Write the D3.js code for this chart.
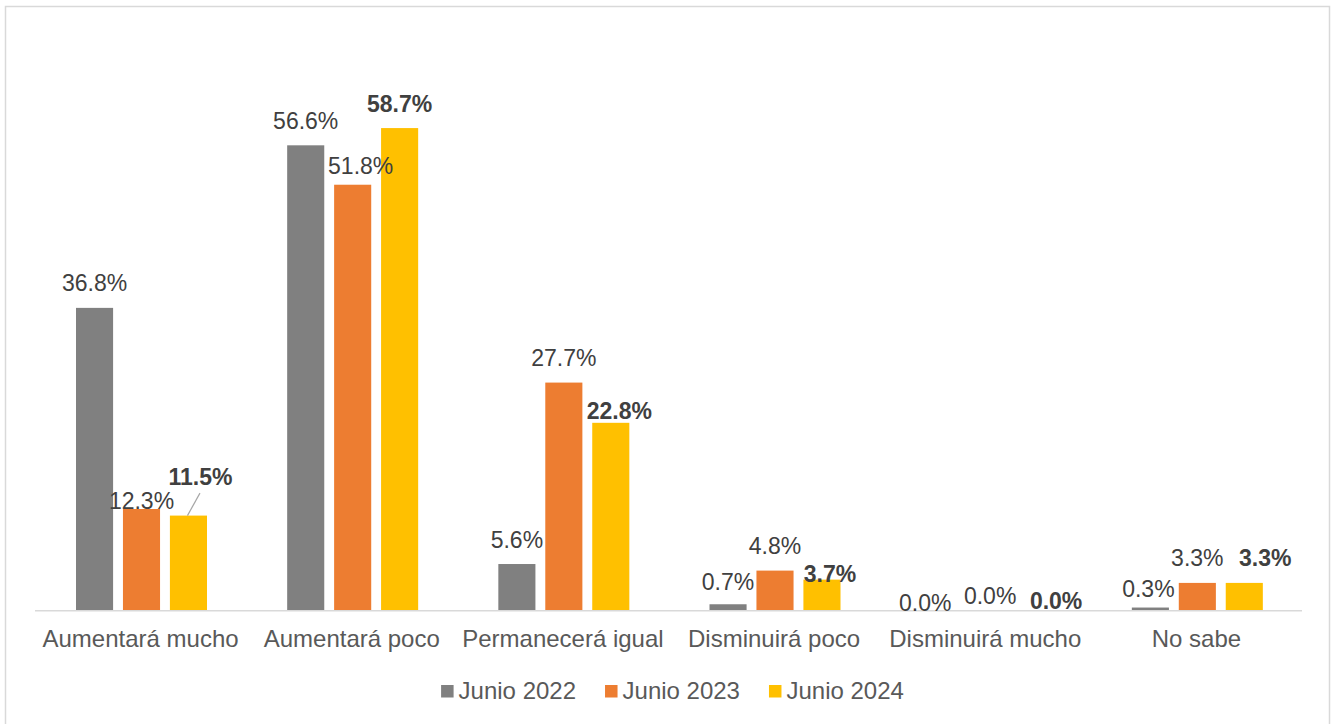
<!DOCTYPE html>
<html>
<head>
<meta charset="utf-8">
<script src="https://cdn.jsdelivr.net/npm/d3@7"></script>
<style>
  body { margin: 0; background: #fff; }
  svg { display: block; font-family: "Liberation Sans", Arial, sans-serif; }
</style>
</head>
<body>
<div id="chart"></div>
<script>
(function(){

    // data
    const categories = ["Aumentará mucho", "Aumentará poco", "Permanecerá igual", "Disminuirá poco", "Disminuirá mucho", "No sabe"];
    const seriesNames = ["Junio 2022", "Junio 2023", "Junio 2024"];
    const junio2022 = [36.8, 56.6, 5.6, 0.7, 0.0, 0.3];
    const junio2023 = [12.3, 51.8, 27.7, 4.8, 0.0, 3.3];
    const junio2024 = [11.5, 58.7, 22.8, 3.7, 0.0, 3.3];

    const colors = ["#808080", "#ED7D31", "#FFC000"];

    // manual label nudges (dx, dy in px) as placed in the original chart
    const labelShift = [
        [[0,0],[0,0],[0,0],[0,2],[-14,17.5],[-2,5.5]],
        [[0,16],[8,6],[0,0],[0,0],[4,10],[0,0]],
        [[12,-14],[0,0],[8.5,13],[8,18.5],[23,15.5],[21,0]]
    ];

    const width = 1331, height = 724;
    const left = 35, right = 1302, base = 610;

    let svg = d3.select("#chart")
        .append("svg")
        .attr("width", width)
        .attr("height", height);

    // outer frame
    svg.append("rect")
        .attr("x", 5.5).attr("y", 6.5)
        .attr("width", 1324).attr("height", 740)
        .attr("fill", "none")
        .attr("stroke", "#d9d9d9")
        .attr("stroke-width", 1.5);

    let data = [junio2022, junio2023, junio2024];

    let x0 = d3.scaleBand()
        .domain(categories)
        .range([left, right]);

    let x1 = d3.scaleBand()
        .domain(seriesNames)
        .range([41, 172])
        .paddingInner(0.21);

    let y = d3.scaleLinear()
        .domain([0, 70])
        .range([base, 35.3]);

    // bars
    seriesNames.forEach(function(s, si){
        svg.append("g").selectAll("rect")
            .data(data[si])
            .enter()
            .append("rect")
            .attr("x", function(d, i){ return x0(categories[i]) + x1(s); })
            .attr("y", function(d){ return y(d); })
            .attr("width", x1.bandwidth())
            .attr("height", function(d){ return base - y(d); })
            .attr("fill", colors[si]);
    });

    // axis line
    svg.append("line")
        .attr("x1", left).attr("x2", right)
        .attr("y1", base + 0.75).attr("y2", base + 0.75)
        .attr("stroke", "#d9d9d9")
        .attr("stroke-width", 1.5);

    // data labels
    seriesNames.forEach(function(s, si){
        svg.append("g").selectAll("text")
            .data(data[si])
            .enter()
            .append("text")
            .attr("x", function(d, i){ return x0(categories[i]) + x1(s) + x1.bandwidth()/2 + labelShift[si][i][0]; })
            .attr("y", function(d, i){ return y(d) - 16.5 + labelShift[si][i][1]; })
            .attr("text-anchor", "middle")
            .attr("font-size", "23px")
            .attr("font-weight", si === 2 ? "bold" : "normal")
            .attr("fill", "#404040")
            .text(function(d){ return d.toFixed(1) + "%"; });
    });

    // leader line for the moved 11.5% label
    let lx = x0(categories[0]) + x1(seriesNames[2]) + x1.bandwidth()/2;
    svg.append("line")
        .attr("x1", lx - 1).attr("y1", y(junio2024[0]))
        .attr("x2", lx + 11.5).attr("y2", y(junio2024[0]) - 22.5)
        .attr("stroke", "#a6a6a6")
        .attr("stroke-width", 1.2);

    // category labels
    svg.append("g").selectAll("text")
        .data(categories)
        .enter()
        .append("text")
        .attr("x", function(d){ return x0(d) + x0.bandwidth()/2; })
        .attr("y", 647)
        .attr("text-anchor", "middle")
        .attr("font-size", "24px")
        .attr("fill", "#595959")
        .text(function(d){ return d; });

    // legend
    let legend = svg.append("g");
    let items = legend.selectAll("g")
        .data(seriesNames)
        .enter()
        .append("g");
    items.append("rect")
        .attr("width", 12.5).attr("height", 12.5)
        .attr("y", 685)
        .attr("fill", function(d, i){ return colors[i]; });
    items.append("text")
        .attr("x", 17.5)
        .attr("y", 699)
        .attr("font-size", "24px")
        .attr("fill", "#595959")
        .text(function(d){ return d; });

    let pos = 0, offsets = [];
    items.each(function(){
        offsets.push(pos);
        pos += 17.5 + d3.select(this).select("text").node().getComputedTextLength() + 29;
    });
    let total = pos - 29;
    let start = 672.5 - total/2;
    items.attr("transform", function(d, i){ return `translate(${start + offsets[i]}, 0)`; });

})();
</script>
</body>
</html>
